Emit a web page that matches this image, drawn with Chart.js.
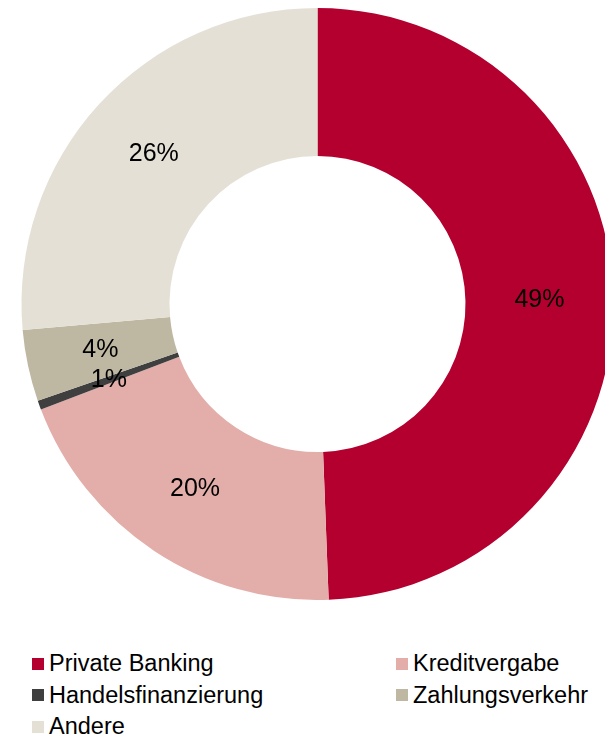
<!DOCTYPE html>
<html>
<head>
<meta charset="utf-8">
<script src="https://cdn.jsdelivr.net/npm/chart.js@4/dist/chart.umd.min.js"></script>
<style>
  html, body {
    margin: 0;
    padding: 0;
    width: 605px;
    height: 738px;
    overflow: hidden;
    background: #ffffff;
    font-family: "Liberation Sans", Arial, sans-serif;
  }
  #chartBox {
    position: absolute;
    left: 0;
    top: 8px;
    width: 635px;
    height: 592px;
  }
  #legend {
    position: absolute;
    left: 32px;
    top: 648px;
    width: 573px;
    display: grid;
    grid-template-columns: 364px 200px;
    grid-auto-rows: 31.5px;
    font-size: 23.5px;
    color: #000000;
  }
  .item {
    display: flex;
    align-items: center;
    white-space: nowrap;
  }
  .box {
    width: 12px;
    height: 12px;
    margin-right: 5px;
    flex: none;
  }
</style>
</head>
<body>
<div id="chartBox"><canvas id="shareChart"></canvas></div>
<div id="legend"></div>
<script>
// Data
const categories = ["Private Banking", "Kreditvergabe", "Handelsfinanzierung", "Zahlungsverkehr", "Andere"];
const shares = [49.4, 19.8, 0.5, 3.9, 26.4];
const colors = ["#B3002F", "#E3AEAA", "#3F3F3F", "#BEB8A2", "#E4E0D6"];

// Percent labels in the middle of each ring segment
const sliceLabels = {
  id: "sliceLabels",
  afterDatasetsDraw(chart) {
    const ctx = chart.ctx;
    const meta = chart.getDatasetMeta(0);
    ctx.save();
    ctx.font = '25px "Liberation Sans", Arial, sans-serif';
    ctx.fillStyle = "#000000";
    ctx.textAlign = "center";
    ctx.textBaseline = "middle";
    meta.data.forEach((arc, i) => {
      const pos = arc.tooltipPosition();
      ctx.fillText(Math.round(shares[i]) + "%", pos.x, pos.y);
    });
    ctx.restore();
  },
};

const ctx = document.getElementById("shareChart").getContext("2d");
new Chart(ctx, {
  type: "doughnut",
  data: {
    labels: categories,
    datasets: [
      {
        data: shares,
        backgroundColor: colors,
        borderWidth: 0,
      },
    ],
  },
  options: {
    responsive: true,
    maintainAspectRatio: false,
    animation: false,
    cutout: "50%",
    layout: {
      padding: 0,
    },
    plugins: {
      legend: {
        display: false,
      },
      tooltip: {
        enabled: false,
      },
    },
  },
  plugins: [sliceLabels],
});

// Legend (two columns)
const legend = document.getElementById("legend");
categories.forEach((name, i) => {
  const item = document.createElement("div");
  item.className = "item";
  const box = document.createElement("span");
  box.className = "box";
  box.style.background = colors[i];
  const text = document.createElement("span");
  text.textContent = name;
  item.appendChild(box);
  item.appendChild(text);
  legend.appendChild(item);
});
</script>
</body>
</html>
